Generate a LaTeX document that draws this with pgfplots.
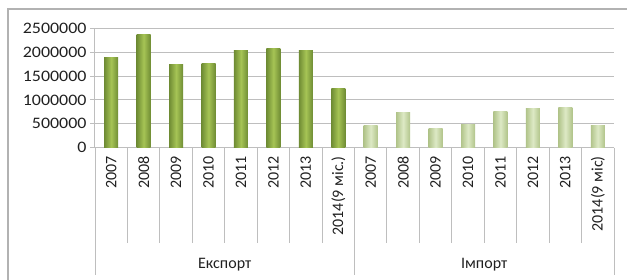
\documentclass[border=0pt]{standalone}
\usepackage{pgfplots}
\pgfplotsset{compat=1.18}
\usepackage{fontspec}
\setmainfont{Carlito}
\newfontfamily\wide[FakeStretch=1.12]{Carlito}
\definecolor{expE}{HTML}{6F8C34}
\definecolor{expM}{HTML}{A6C455}
\definecolor{impE}{HTML}{B1C48A}
\definecolor{impM}{HTML}{DDE9C5}
\definecolor{gridc}{HTML}{BEBEBE}
\definecolor{txt}{HTML}{202020}
\pgfplotsset{
  expbar/.style={ybar, bar width=0.43, bar shift=0pt, draw=none, left color=expE, right color=expE, middle color=expM},
  impbar/.style={ybar, bar width=0.43, bar shift=0pt, draw=none, left color=impE, right color=impE, middle color=impM},
}
\begin{document}
\begin{tikzpicture}[x=1pt,y=1pt]
\useasboundingbox (0,0) rectangle (627,-280);
\draw[gray!60, line width=1.2pt] (8,-300) -- (8,-9) -- (660,-9);
\begin{axis}[
  at={(95pt,-147.7pt)}, anchor=south west,
  scale only axis, width=519pt, height=119.4pt,
  xmin=-0.5, xmax=15.5, ymin=0, ymax=2500000,
  ytick={0,500000,1000000,1500000,2000000,2500000},
  scaled y ticks=false,
  /pgf/number format/assume math mode=true,
  yticklabel style={/pgf/number format/fixed, /pgf/number format/1000 sep={}, font=\wide\fontsize{16}{18}\selectfont, text=txt},
  ymajorgrids, grid style={gridc, line width=1pt},
  axis x line*=bottom, axis y line*=left,
  axis line style={gridc, line width=1pt, -},
  ytick pos=left, tick align=outside, major tick length=5pt,
  tick style={gridc, line width=1pt},
  xtick={0,1,...,15},
  xticklabels={2007,2008,2009,2010,2011,2012,2013,{2014(9 міс.)},2007,2008,2009,2010,2011,2012,2013,{2014(9 міс)}},
  x tick style={draw=none},
  xticklabel style={rotate=90, anchor=east, font=\fontsize{16}{18}\selectfont, text=txt},
  clip=false,
]
% Експорт
\addplot[expbar] coordinates {(0,1883000)};
\addplot[expbar] coordinates {(1,2362000)};
\addplot[expbar] coordinates {(2,1744000)};
\addplot[expbar] coordinates {(3,1765000)};
\addplot[expbar] coordinates {(4,2042000)};
\addplot[expbar] coordinates {(5,2083000)};
\addplot[expbar] coordinates {(6,2029000)};
\addplot[expbar] coordinates {(7,1238000)};
% Імпорт
\addplot[impbar] coordinates {(8,458000)};
\addplot[impbar] coordinates {(9,737000)};
\addplot[impbar] coordinates {(10,404000)};
\addplot[impbar] coordinates {(11,487000)};
\addplot[impbar] coordinates {(12,765000)};
\addplot[impbar] coordinates {(13,821000)};
\addplot[impbar] coordinates {(14,848000)};
\addplot[impbar] coordinates {(15,458000)};
\end{axis}
\foreach \k in {1,...,7,9,10,...,15} \draw[gridc, line width=1pt] (95+\k*32.4375, -147.7) -- ++(0,-95.3);
\foreach \k in {0,8,16} \draw[gridc, line width=1pt] (95+\k*32.4375, -147.7) -- ++(0,-127.3);
\node[font=\fontsize{16}{18}\selectfont, text=txt] at (95+4*32.4375, -265) {Експорт};
\node[font=\fontsize{16}{18}\selectfont, text=txt] at (95+12*32.4375, -265) {Імпорт};
\end{tikzpicture}
\end{document}
